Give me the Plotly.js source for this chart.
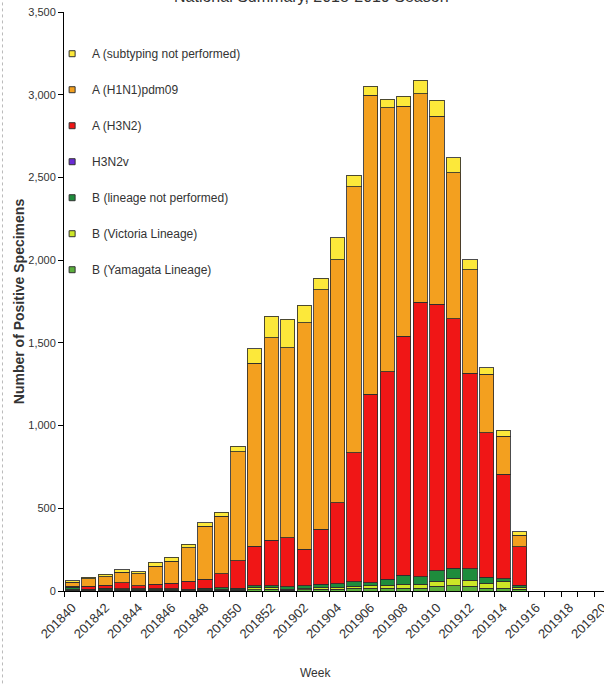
<!DOCTYPE html>
<html>
<head>
<meta charset="utf-8">
<script src="https://cdn.plot.ly/plotly-3.0.1.min.js"></script>
<style>
html,body{margin:0;padding:0;background:#fff;}
#chart{width:604px;height:684px;}
</style>
</head>
<body>
<div id="chart"></div>
<script>
const weeks = ['201840','201841','201842','201843','201844','201845','201846','201847','201848','201849','201850','201851','201852',
  '201901','201902','201903','201904','201905','201906','201907','201908','201909','201910','201911','201912','201913','201914','201915',
  '201916','201917','201918','201919','201920'];

const aNotSubtyped = [10,10,16,14,10,26,24,20,20,24,34,87,129,173,107,70,133,70,54,50,62,80,97,91,60,38,36,20,0,0,0,0,0];
const aH1N1 = [22,46,50,64,72,108,135,204,320,347,659,1106,1225,1149,1369,1448,1470,1608,1806,1597,1390,1259,1136,881,628,353,231,70,0,0,0,0,0];
const aH3N2 = [8,16,18,36,20,28,32,46,56,85,165,240,274,296,220,332,489,779,1140,1255,1445,1660,1610,1510,1180,875,630,234,0,0,0,0,0];
const h3n2v = [0,0,0,0,0,0,0,0,0,0,0,0,0,0,0,0,0,0,0,0,0,0,0,0,0,0,0,0,0,0,0,0,0];
const bNotPerformed = [12,6,8,6,6,6,7,6,8,10,8,8,10,14,18,20,20,26,18,34,55,45,65,60,70,35,15,10,0,0,0,0,0];
const bVictoria = [4,3,4,3,3,3,3,3,4,5,4,16,12,6,6,10,12,14,16,20,22,26,30,45,35,30,42,12,0,0,0,0,0];
const bYamagata = [6,3,5,4,4,4,4,3,4,5,5,8,10,6,8,10,12,16,16,16,18,16,28,32,30,18,18,12,0,0,0,0,0];

const tickLabels = weeks.map((w, i) => (i % 2 === 0 ? w : ''));

// stack order bottom -> top
const series = [
  {name:'B (Yamagata Lineage)', y:bYamagata, color:'#5BAF3C'},
  {name:'B (Victoria Lineage)', y:bVictoria, color:'#CDE627'},
  {name:'B (lineage not performed)', y:bNotPerformed, color:'#1E8C3C'},
  {name:'H3N2v', y:h3n2v, color:'#6A2BD6'},
  {name:'A (H3N2)', y:aH3N2, color:'#F01616'},
  {name:'A (H1N1)pdm09', y:aH1N1, color:'#F3A01F'},
  {name:'A (subtyping not performed)', y:aNotSubtyped, color:'#FCE83A'}
];

const traces = series.map(s => ({
  type:'bar', x:weeks, y:s.y, name:s.name, showlegend:false,
  marker:{color:s.color, line:{color:'rgba(45,45,45,0.85)', width:1}},
  hoverinfo:'x+y+name'
}));

// legend entries (top -> bottom order)
const legendOrder = series.slice().reverse();
legendOrder.forEach((s, i) => {
  traces.push({
    type:'scatter', mode:'markers', x:[null], y:[null], name:s.name,
    legendgroup:'g' + i, showlegend:true,
    marker:{symbol:'square', size:6, color:s.color, line:{color:'#333', width:1}}
  });
});

const FONT = 'Liberation Sans, Arial, Helvetica, sans-serif';

const layout = {
  width:604, height:684,
  margin:{l:64, r:0, t:12, b:93},
  paper_bgcolor:'#ffffff', plot_bgcolor:'#ffffff',
  barmode:'stack', bargap:0.14,
  font:{family:FONT, color:'#333'},
  showlegend:true,
  xaxis:{
    type:'category', categoryorder:'array', categoryarray:weeks,
    range:[-0.5, 32.08],
    tickmode:'array', tickvals:weeks, ticktext:tickLabels,
    tickson:'boundaries', ticks:'outside', ticklen:5, tickcolor:'#000', tickwidth:1,
    ticklabelstandoff:3,
    showline:true, linecolor:'#000', linewidth:1,
    tickangle:-45, tickfont:{size:13, color:'#333', family:FONT},
    showgrid:false, zeroline:false, fixedrange:true
  },
  yaxis:{
    range:[0, 3500], tickmode:'linear', tick0:0, dtick:500, tickformat:',d',
    ticks:'outside', ticklen:5, tickcolor:'#000',
    showline:true, linecolor:'#000', linewidth:1,
    showgrid:false, zeroline:false,
    tickfont:{size:11, color:'#333', family:FONT},
    title:{text:'Number of Positive Specimens', font:{size:14, color:'#333', family:FONT, weight:'bold'}, standoff:0},
    fixedrange:true
  },
  legend:{
    x:-0.022, xanchor:'left', y:0.953, yanchor:'top',
    font:{size:12, color:'#333', family:FONT},
    bgcolor:'rgba(0,0,0,0)', traceorder:'grouped', tracegroupgap:17
  },
  annotations:[
    {text:'National Summary, 2018-2019 Season', xref:'paper', yref:'paper', x:0.459, y:1.026,
     xanchor:'center', yanchor:'middle', showarrow:false, font:{size:16, color:'#333', family:FONT}},
    {text:'Week', xref:'paper', yref:'paper', x:0.465, y:-0.1416, xanchor:'center', yanchor:'middle',
     showarrow:false, font:{size:12, color:'#333', family:FONT}}
  ],
  shapes:[
    {type:'line', xref:'paper', yref:'paper', x0:-0.1139, x1:-0.1139, y0:-0.17, y1:1.03,
     line:{color:'#bbbbbb', width:1, dash:'dot'}}
  ]
};

Plotly.newPlot('chart', traces, layout, {displayModeBar:false, staticPlot:true});
</script>
</body>
</html>
